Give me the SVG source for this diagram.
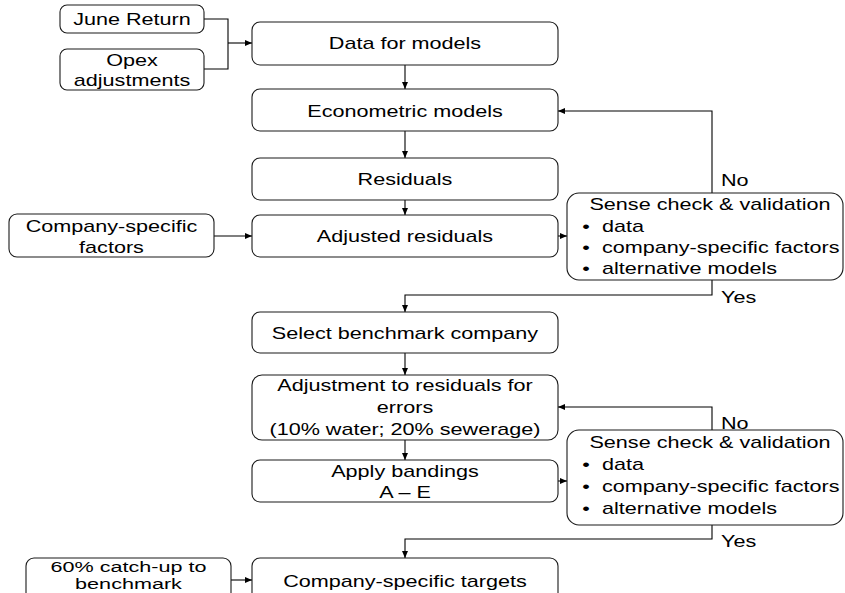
<svg xmlns="http://www.w3.org/2000/svg" width="845" height="593" viewBox="0 0 845 593">
<style>
.box{fill:#fff;stroke:#1a1a1a;stroke-width:1.1}
.t{font-family:"Liberation Sans",Arial,sans-serif;font-size:17px;fill:#000}
.s{font-size:15px}
.c{text-anchor:middle}
.ln{fill:none;stroke:#000;stroke-width:1.1}
</style>
<defs>
<marker id="ah" markerWidth="7" markerHeight="6" refX="7" refY="3" orient="auto" markerUnits="userSpaceOnUse">
<path d="M0,0 L7,3 L0,6 z" fill="#000"/>
</marker>
</defs>
<rect width="845" height="593" fill="#fff"/>
<g id="connectors">
<path class="ln" d="M204,19 H228 V69 H204"/>
<path class="ln" d="M228,43 H252" marker-end="url(#ah)"/>
<path class="ln" d="M405,65 V89" marker-end="url(#ah)"/>
<path class="ln" d="M405,131 V158" marker-end="url(#ah)"/>
<path class="ln" d="M405,200 V215" marker-end="url(#ah)"/>
<path class="ln" d="M214,236 H252" marker-end="url(#ah)"/>
<path class="ln" d="M558,236 H567" marker-end="url(#ah)"/>
<path class="ln" d="M712,193 V111 H558" marker-end="url(#ah)"/>
<path class="ln" d="M712,280 V295 H405 V312" marker-end="url(#ah)"/>
<path class="ln" d="M405,353 V375" marker-end="url(#ah)"/>
<path class="ln" d="M405,440 V460" marker-end="url(#ah)"/>
<path class="ln" d="M558,481 H567" marker-end="url(#ah)"/>
<path class="ln" d="M712,430 V407 H558" marker-end="url(#ah)"/>
<path class="ln" d="M712,525 V539 H405 V558" marker-end="url(#ah)"/>
<path class="ln" d="M231,580 H252" marker-end="url(#ah)"/>
<text class="t" transform="translate(721 186) scale(1.27 1)">No</text>
<text class="t" transform="translate(721 303) scale(1.27 1)">Yes</text>
<text class="t" transform="translate(721 429) scale(1.27 1)">No</text>
<text class="t" transform="translate(721 547) scale(1.27 1)">Yes</text>
</g>
<g id="june-return">
<rect class="box" x="60" y="5" width="144" height="28" rx="7"/>
<text class="t c" transform="translate(132 25) scale(1.27 1)">June Return</text>
</g>
<g id="opex-adjustments">
<rect class="box" x="60" y="49" width="144" height="41" rx="7"/>
<text class="t c" transform="translate(132 66) scale(1.27 1)">Opex</text>
<text class="t c" transform="translate(132 86) scale(1.27 1)">adjustments</text>
</g>
<g id="data-for-models">
<rect class="box" x="252" y="22" width="306" height="43" rx="8"/>
<text class="t c" transform="translate(405 49) scale(1.27 1)">Data for models</text>
</g>
<g id="econometric-models">
<rect class="box" x="252" y="89" width="306" height="42" rx="8"/>
<text class="t c" transform="translate(405 117) scale(1.27 1)">Econometric models</text>
</g>
<g id="residuals">
<rect class="box" x="252" y="158" width="306" height="42" rx="8"/>
<text class="t c" transform="translate(405 185) scale(1.27 1)">Residuals</text>
</g>
<g id="company-specific-factors">
<rect class="box" x="9" y="214" width="205" height="43" rx="8"/>
<text class="t c" transform="translate(111.5 232) scale(1.27 1)">Company-specific</text>
<text class="t c" transform="translate(111.5 253) scale(1.27 1)">factors</text>
</g>
<g id="adjusted-residuals">
<rect class="box" x="252" y="215" width="306" height="42" rx="8"/>
<text class="t c" transform="translate(405 242) scale(1.27 1)">Adjusted residuals</text>
</g>
<g id="sense-check-1">
<rect class="box" x="567" y="193" width="276" height="87" rx="12"/>
<text class="t c" transform="translate(710 210) scale(1.27 1)">Sense check &amp; validation</text>
<text class="t c" transform="translate(586 232) scale(1.27 1)">•</text>
<text class="t" transform="translate(602 232) scale(1.27 1)">data</text>
<text class="t c" transform="translate(586 253) scale(1.27 1)">•</text>
<text class="t" transform="translate(602 253) scale(1.27 1)">company-specific factors</text>
<text class="t c" transform="translate(586 274) scale(1.27 1)">•</text>
<text class="t" transform="translate(602 274) scale(1.27 1)">alternative models</text>
</g>
<g id="select-benchmark">
<rect class="box" x="252" y="312" width="306" height="41" rx="8"/>
<text class="t c" transform="translate(405 339) scale(1.27 1)">Select benchmark company</text>
</g>
<g id="adjustment-errors">
<rect class="box" x="252" y="375" width="306" height="65" rx="10"/>
<text class="t c" transform="translate(405 391) scale(1.27 1)">Adjustment to residuals for</text>
<text class="t c" transform="translate(405 413) scale(1.27 1)">errors</text>
<text class="t c" transform="translate(405 435) scale(1.27 1)">(10% water; 20% sewerage)</text>
</g>
<g id="apply-bandings">
<rect class="box" x="252" y="460" width="306" height="42" rx="8"/>
<text class="t c" transform="translate(405 477) scale(1.27 1)">Apply bandings</text>
<text class="t c" transform="translate(405 498) scale(1.27 1)">A – E</text>
</g>
<g id="sense-check-2">
<rect class="box" x="567" y="430" width="276" height="95" rx="12"/>
<text class="t c" transform="translate(710 448) scale(1.27 1)">Sense check &amp; validation</text>
<text class="t c" transform="translate(586 470) scale(1.27 1)">•</text>
<text class="t" transform="translate(602 470) scale(1.27 1)">data</text>
<text class="t c" transform="translate(586 492) scale(1.27 1)">•</text>
<text class="t" transform="translate(602 492) scale(1.27 1)">company-specific factors</text>
<text class="t c" transform="translate(586 514) scale(1.27 1)">•</text>
<text class="t" transform="translate(602 514) scale(1.27 1)">alternative models</text>
</g>
<g id="catch-up">
<rect class="box" x="26" y="558" width="205" height="45" rx="8"/>
<text class="t s c" transform="translate(128.5 572) scale(1.44 1)">60% catch-up to</text>
<text class="t s c" transform="translate(128.5 589) scale(1.44 1)">benchmark</text>
</g>
<g id="company-specific-targets">
<rect class="box" x="252" y="558" width="306" height="45" rx="8"/>
<text class="t c" transform="translate(405 587) scale(1.27 1)">Company-specific targets</text>
</g>
</svg>
